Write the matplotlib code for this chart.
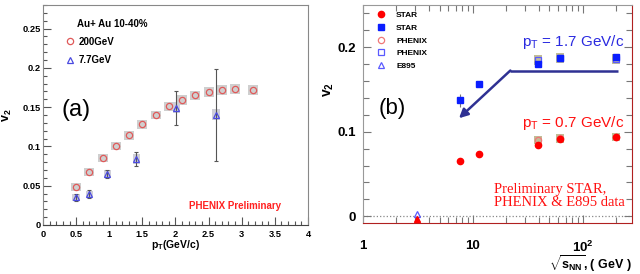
import matplotlib.pyplot as plt
from matplotlib.patches import Rectangle
from matplotlib.ticker import MultipleLocator, LogLocator, NullFormatter

plt.rcParams['font.family'] = ['Liberation Sans', 'DejaVu Sans']
plt.rcParams['mathtext.fontset'] = 'custom'
plt.rcParams['mathtext.rm'] = 'Liberation Sans'
plt.rcParams['mathtext.bf'] = 'Liberation Sans:bold'

# (a) v2 vs pT, Au+Au 10-40%
pt_200 = [0.5, 0.7, 0.9, 1.1, 1.3, 1.5, 1.7, 1.9, 2.1, 2.3, 2.5, 2.7, 2.9, 3.17]
v2_200 = [0.048, 0.067, 0.085, 0.100, 0.114, 0.128, 0.140, 0.151, 0.159, 0.165, 0.169, 0.172, 0.173, 0.172]
sys_200 = [0.005, 0.005, 0.005, 0.005, 0.0055, 0.0055, 0.0055, 0.0055, 0.006, 0.006, 0.006, 0.006, 0.006, 0.006]

pt_77 = [0.5, 0.7, 0.97, 1.41, 2.01, 2.61]
v2_77 = [0.035, 0.039, 0.065, 0.084, 0.149, 0.140]
err_77 = [0.004, 0.005, 0.005, 0.009, 0.022, 0.058]
sys_77 = [0.004, 0.004, 0.005, 0.006, 0.007, 0.007]

# (b) v2 vs sqrt(s_NN)
star_e = [7.7, 11.5, 39, 62.4, 200]
star_low = [0.065, 0.074, 0.084, 0.091, 0.094]
star_high = [0.137, 0.156, 0.180, 0.187, 0.188]
star_high_err = [0.008, 0.003, 0.002, 0.002, 0.002]
phenix_e = [39, 62.4, 200]
phenix_low = [0.090, 0.092, 0.094]
phenix_high = [0.185, 0.187, 0.186]
phenix_sys = [0.005, 0.005, 0.005]
e895_e = [3.1]
e895_low = [-0.003]
e895_high = [0.003]

fig = plt.figure(figsize=(6.4, 2.74), dpi=100)
ax1 = fig.add_axes([0.0672, 0.179, 0.414, 0.803])
ax2 = fig.add_axes([0.567, 0.186, 0.420, 0.796])

# ---- panel (a)
for x, y, s in zip(pt_200, v2_200, sys_200):
    ax1.add_patch(Rectangle((x - 0.075, y - s), 0.15, 2 * s, color='#cfcfcf', lw=0, zorder=1))
for x, y, s in zip(pt_77, v2_77, sys_77):
    ax1.add_patch(Rectangle((x - 0.055, y - s), 0.11, 2 * s, color='#cfcfd8', lw=0, zorder=1))
ax1.errorbar(pt_77, v2_77, yerr=err_77, fmt='none', ecolor='#555555', elinewidth=0.8,
             capsize=1.5, capthick=0.8, zorder=2)
ax1.plot(pt_200, v2_200, 'o', mfc='none', mec='#e05a5a', ms=4.5, mew=0.9, ls='none',
         zorder=3, label='200GeV')
ax1.plot(pt_77, v2_77, '^', mfc='none', mec='#4a4ae0', ms=4.5, mew=0.9, ls='none',
         zorder=3, label='7.7GeV')

ax1.set_xlim(0, 4)
ax1.set_ylim(0, 0.28)
ax1.xaxis.set_major_locator(MultipleLocator(0.5))
ax1.xaxis.set_minor_locator(MultipleLocator(0.1))
ax1.yaxis.set_major_locator(MultipleLocator(0.05))
ax1.yaxis.set_minor_locator(MultipleLocator(0.01))
ax1.xaxis.set_major_formatter(plt.FuncFormatter(lambda v, p: f'{v:g}'))
ax1.yaxis.set_major_formatter(plt.FuncFormatter(lambda v, p: f'{v:g}'))
ax1.tick_params(which='both', direction='in', top=False, right=False, color='#555555')
ax1.tick_params(which='major', length=6, width=0.8)
ax1.tick_params(which='minor', length=3, width=0.8)
ax1.tick_params(axis='y', pad=1.5)
ax1.tick_params(axis='x', pad=3.5)
for lab in ax1.get_xticklabels() + ax1.get_yticklabels():
    lab.set_fontsize(6.7)
    lab.set_fontweight('bold')
for side in ['left', 'top', 'right']:
    ax1.spines[side].set_color('#888888')
ax1.spines['bottom'].set_color('#444444')

ax1.set_xlabel(r'p$_\mathbf{T}$(GeV/c)', fontsize=7.5, fontweight='bold')
ax1.xaxis.set_label_coords(0.5, -0.058)
ax1.set_ylabel(r'v$_\mathbf{2}$', fontsize=9, fontweight='bold')
ax1.yaxis.set_label_coords(-0.11, 0.5)

ax1.text(0.52, 0.256, 'Au+ Au 10-40%', fontsize=7, fontweight='bold', va='center')
ax1.legend(loc='upper left', bbox_to_anchor=(0.083, 0.855), frameon=False,
           prop={'size': 7, 'weight': 'bold'}, handlelength=1.0, handletextpad=0.4,
           borderpad=0, borderaxespad=0, labelspacing=0.85, numpoints=1)
ax1.text(0.5, 0.146, '(a)', fontsize=17, ha='center', va='center')
ax1.text(2.2, 0.024, 'PHENIX Preliminary', fontsize=7, fontweight='bold', color='#ff2020',
         va='center')

# ---- panel (b)
ax2.axhline(0, color='#888888', ls=':', lw=0.9, zorder=1)
for x, y, s in zip(phenix_e, phenix_low, phenix_sys):
    ax2.add_patch(Rectangle((x / 1.085, y - s), x * 1.085 - x / 1.085, 2 * s,
                            color='#c2bd97', lw=0, zorder=1))
for x, y, s in zip(phenix_e, phenix_high, phenix_sys):
    ax2.add_patch(Rectangle((x / 1.085, y - s - 0.001), x * 1.085 - x / 1.085, 2 * s + 0.002,
                            color='#c2bd97', lw=0, zorder=1))

ax2.errorbar(star_e, star_high, yerr=star_high_err, fmt='none', ecolor='#777777',
             elinewidth=0.8, zorder=2)
h1, = ax2.plot(star_e, star_low, 'o', color='#ff0000', ms=4.5, ls='none', zorder=4)
h2, = ax2.plot(star_e, star_high, 's', color='#0a1eff', ms=4.3, ls='none', zorder=4)
h3, = ax2.plot(phenix_e, phenix_low, 'o', mfc='none', mec='#f07878', ms=4.5, mew=0.9,
               ls='none', zorder=3)
h4, = ax2.plot(phenix_e, phenix_high, 's', mfc='none', mec='#5a5aff', ms=4.3, mew=0.9,
               ls='none', zorder=3)
h5, = ax2.plot(e895_e, e895_high, '^', mfc='none', mec='#5a5aff', ms=4.5, mew=0.9,
               ls='none', zorder=3)
ax2.plot(e895_e, e895_low, '^', color='#ff0000', ms=4, ls='none', zorder=3)

# arrow
arrow_c = '#2f3193'
ax2.plot([212, 22], [0.1724, 0.1724], color=arrow_c, lw=1.8, solid_capstyle='butt', zorder=5)
ax2.annotate('', xy=(7.5, 0.116), xytext=(22, 0.1724),
             arrowprops=dict(arrowstyle='-|>', color=arrow_c, lw=1.8, mutation_scale=13,
                             shrinkA=0, shrinkB=0), zorder=5)

ax2.set_xscale('log')
ax2.set_xlim(1, 280)
ax2.set_ylim(-0.008, 0.25)
ax2.set_xticks([1, 10, 100], labels=['1', '10', r'$\mathbf{10^2}$'])
ax2.xaxis.set_minor_locator(LogLocator(base=10, subs=range(2, 10)))
ax2.xaxis.set_minor_formatter(NullFormatter())
ax2.yaxis.set_major_locator(MultipleLocator(0.1))
ax2.yaxis.set_minor_locator(MultipleLocator(0.02))
ax2.yaxis.set_major_formatter(plt.FuncFormatter(lambda v, p: f'{v:g}'))
ax2.tick_params(which='both', direction='in', top=True, right=True, color='#777777')
ax2.tick_params(which='major', length=6, width=0.8)
ax2.tick_params(which='minor', length=4, width=0.8)
ax2.tick_params(axis='x', pad=12)
ax2.tick_params(axis='y', pad=5)
for lab in ax2.get_xticklabels() + ax2.get_yticklabels():
    lab.set_fontsize(9.5)
    lab.set_fontweight('bold')
ax2.spines['left'].set_color('#999999')
ax2.spines['top'].set_color('#999999')
ax2.spines['right'].set_color('#b02020')
ax2.spines['bottom'].set_color('#b02020')

ax2.set_xlabel(r'$\sqrt{\mathbf{s_{NN}}}$, ( GeV )', fontsize=9, fontweight='bold')
ax2.xaxis.set_label_coords(1.0, -0.14)
ax2.xaxis.label.set_horizontalalignment('right')
ax2.set_ylabel(r'v$_\mathbf{2}$', fontsize=10, fontweight='bold')
ax2.yaxis.set_label_coords(-0.10, 0.61)

ax2.legend([h1, h2, h3, h4, h5], ['STAR', 'STAR', 'PHENIX', 'PHENIX', 'E895'],
           loc='upper left', bbox_to_anchor=(0.052, 0.972), frameon=False,
           prop={'size': 6, 'weight': 'bold'}, handlelength=1.0, handletextpad=1.3,
           borderpad=0, borderaxespad=0, labelspacing=0.6, numpoints=1)

ax2.text(27.9, 0.206, r'p$_\mathrm{T}$ = 1.7 GeV/c', fontsize=11, color='#2a2ae0', va='center')
ax2.text(27.9, 0.110, r'p$_\mathrm{T}$ = 0.7 GeV/c', fontsize=11, color='#ff1010', va='center')
ax2.text(1.87, 0.128, '(b)', fontsize=16, ha='center', va='center')
ax2.text(15.5, 0.024, 'Preliminary STAR,\nPHENIX & E895 data', fontsize=10.5,
         family='Liberation Serif', color='#ff1010', va='center', linespacing=1.0)

plt.savefig('out.png', dpi=100)
